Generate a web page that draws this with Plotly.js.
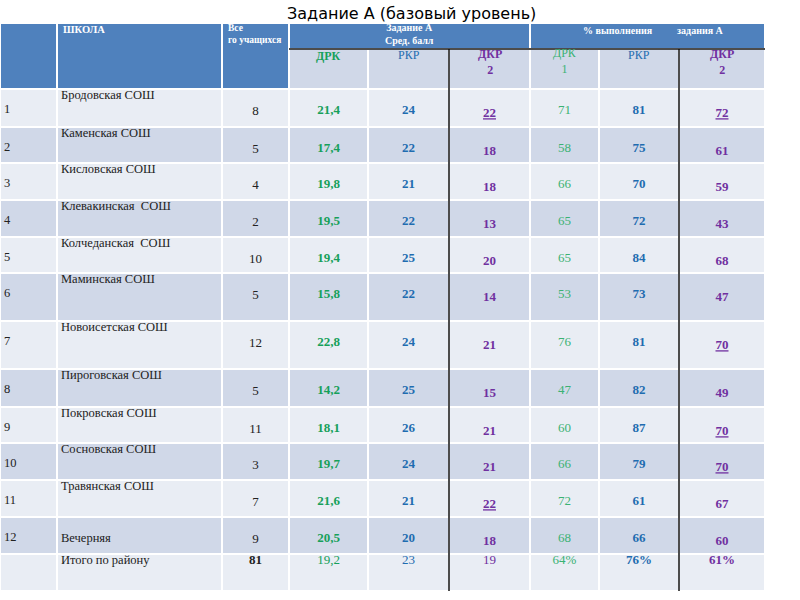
<!DOCTYPE html>
<html>
<head>
<meta charset="utf-8">
<script src="https://cdn.plot.ly/plotly-3.0.1.min.js"></script>
<style>body{margin:0;background:#fff}</style>
</head>
<body>
<div id="tbl" style="width:800px;height:600px"></div>
<script>
// ---- data ----
var rowNums = ['1', '2', '3', '4', '5', '6', '7', '8', '9', '10', '11', '12'];
var schools = ['Бродовская СОШ', 'Каменская СОШ', 'Кисловская СОШ', 'Клевакинская  СОШ',
  'Колчеданская  СОШ', 'Маминская СОШ', 'Новоисетская СОШ', 'Пироговская СОШ',
  'Покровская СОШ', 'Сосновская СОШ', 'Травянская СОШ', 'Вечерняя'];
var students = [8, 5, 4, 2, 10, 5, 12, 5, 11, 3, 7, 9];
var drk = [21.4, 17.4, 19.8, 19.5, 19.4, 15.8, 22.8, 14.2, 18.1, 19.7, 21.6, 20.5];
var rkr = [24, 22, 21, 22, 25, 22, 24, 25, 26, 24, 21, 20];
var dkr = [22, 18, 18, 13, 20, 14, 21, 15, 21, 21, 22, 18];
var drkPct = [71, 58, 66, 65, 65, 53, 76, 47, 60, 66, 72, 68];
var rkrPct = [81, 75, 70, 72, 84, 73, 81, 82, 87, 79, 61, 66];
var dkrPct = [72, 61, 59, 43, 68, 47, 70, 49, 70, 70, 67, 60];

var totalLabel = 'Итого по району';
var totalStudents = 81;
var totalScores = [19.2, 23, 19];      // ДРК, РКР, ДКР
var totalPct = [64, 76, 61];           // ДРК, РКР, ДКР

// ---- look ----
var colEdges = [0, 57, 222, 289, 368, 449, 530, 599, 679, 765];
var headTop = 23, headMid = 49, headBottom = 89;
var rowHeights = [38, 36, 37, 37, 36, 48, 48, 38, 36, 37, 37, 37, 37];
var underlineDkr = [0, 10];
var underlineDkrPct = [0, 6, 8, 9];

var headBlue = '#4F81BD', rowLight = '#E9EDF4', rowDark = '#D0D8E8';
var green = '#16A05A', greenLight = '#3BB273', blue = '#1F6CB0', purple = '#7030A0';
var serif = 'Liberation Serif, Times New Roman, serif';

var rowTops = [];
var yy = headBottom;
rowHeights.forEach(function (h) { rowTops.push(yy); yy += h; });
var tableBottom = yy;

function mid(c) { return (colEdges[c] + colEdges[c + 1]) / 2; }
function comma(v) { return v.toFixed(1).replace('.', ','); }
function wrap(t, bold, under) {
  t = String(t);
  if (under) t = '<u>' + t + '</u>';
  if (bold) t = '<b>' + t + '</b>';
  return t;
}

// ---- cell backgrounds ----
var shapes = [];
function rect(x0, y0, x1, y1, fill) {
  shapes.push({type: 'rect', xref: 'x', yref: 'y', x0: x0, x1: x1, y0: y0, y1: y1,
    fillcolor: fill, line: {color: '#ffffff', width: 2}, layer: 'below'});
}
rect(colEdges[0], headTop, colEdges[1], headBottom, headBlue);
rect(colEdges[1], headTop, colEdges[2], headBottom, headBlue);
rect(colEdges[2], headTop, colEdges[3], headBottom, headBlue);
rect(colEdges[3], headTop, colEdges[6], headMid, headBlue);
rect(colEdges[6], headTop, colEdges[9], headMid, headBlue);
for (var c = 3; c < 9; c++) rect(colEdges[c], headMid, colEdges[c + 1], headBottom, rowDark);
rowTops.forEach(function (t, r) {
  for (var c = 0; c < 9; c++) rect(colEdges[c], t, colEdges[c + 1], t + rowHeights[r], r % 2 ? rowDark : rowLight);
});
function line(x0, y0, x1, y1) {
  shapes.push({type: 'line', xref: 'x', yref: 'y', x0: x0, x1: x1, y0: y0, y1: y1,
    line: {color: '#111111', width: 1.5}});
}
line(colEdges[3], headMid, colEdges[9], headMid);
line(colEdges[5], headMid, colEdges[5], tableBottom);
line(colEdges[8], headMid, colEdges[8], tableBottom);

// ---- text traces ----
function textTrace(xs, ys, texts, color, size, pos) {
  return {type: 'scatter', mode: 'text', x: xs, y: ys, text: texts,
    textposition: pos || 'middle center', cliponaxis: false,
    textfont: {family: serif, size: size || 13, color: color},
    hoverinfo: 'skip', showlegend: false};
}
function col(c, n) { var a = []; for (var i = 0; i < n; i++) a.push(mid(c)); return a; }

var n = schools.length;
var totTop = rowTops[n];
var ysAt = function (dy) { return rowTops.slice(0, n).map(function (t) { return t + dy; }); };

var traces = [
  textTrace(rowNums.map(function () { return 4; }), ysAt(21), rowNums, '#222', 12.5, 'middle right'),
  textTrace(schools.map(function () { return 61; }).concat([61]),
    rowTops.slice(0, n).map(function (t, i) { return t + (i === n - 1 ? 22 : 7); }).concat([totTop + 7]),
    schools.concat([totalLabel]), '#222', 12.5, 'middle right'),
  textTrace(col(2, n + 1), ysAt(23).concat([totTop + 7]),
    students.map(String).concat(['<b>' + totalStudents + '</b>']), '#222', 13),
  textTrace(col(3, n + 1), ysAt(22).concat([totTop + 7]),
    drk.map(function (v) { return wrap(comma(v), true); }).concat([comma(totalScores[0])]), green, 13),
  textTrace(col(4, n + 1), ysAt(22).concat([totTop + 7]),
    rkr.map(function (v) { return wrap(v, true); }).concat([String(totalScores[1])]), blue, 13),
  textTrace(col(5, n + 1), ysAt(25).concat([totTop + 7]),
    dkr.map(function (v, i) { return wrap(v, true, underlineDkr.indexOf(i) >= 0); }).concat([String(totalScores[2])]), purple, 13),
  textTrace(col(6, n + 1), ysAt(22).concat([totTop + 7]),
    drkPct.map(String).concat([totalPct[0] + '%']), greenLight, 13),
  textTrace(col(7, n + 1), ysAt(22).concat([totTop + 7]),
    rkrPct.map(function (v) { return wrap(v, true); }).concat([wrap(totalPct[1] + '%', true)]), blue, 13),
  textTrace(col(8, n + 1), ysAt(25).concat([totTop + 7]),
    dkrPct.map(function (v, i) { return wrap(v, true, underlineDkrPct.indexOf(i) >= 0); }).concat([wrap(totalPct[2] + '%', true)]), purple, 13)
];

// ---- headers ----
var annotations = [];
function note(x, y, text, color, size, anchor, family) {
  annotations.push({xref: 'x', yref: 'y', x: x, y: y, text: text, showarrow: false,
    xanchor: anchor || 'center', yanchor: 'middle', align: anchor === 'left' ? 'left' : 'center',
    font: {family: family || serif, size: size || 9, color: color}});
}
note(411, 13, 'Задание А (базовый уровень)', '#000', 16, 'center', 'DejaVu Sans, sans-serif');
note(61, 29, '<b>ШКОЛА</b>', '#fff', 10.5, 'left');
note(226, 34, '<b>Все<br>го учащихся</b>', '#fff', 9.5, 'left');
note((colEdges[3] + colEdges[6]) / 2, 34, '<b>Задание А<br>Сред. балл</b>', '#fff', 10);
note((colEdges[6] + colEdges[9]) / 2 + 6, 30, '<b>% выполнения\u00a0\u00a0\u00a0\u00a0\u00a0\u00a0\u00a0\u00a0\u00a0\u00a0задания А</b>', '#fff', 10);
note(mid(3), 56, '<b>ДРК</b>', green, 12);
note(mid(4), 55, 'РКР', blue, 12);
note(mid(5), 62, '<b>ДКР<br>2</b>', purple, 12);
note(mid(6), 61, 'ДРК<br>1', greenLight, 12);
note(mid(7), 55, 'РКР', blue, 12);
note(mid(8), 62, '<b>ДКР<br>2</b>', purple, 12);

var layout = {
  width: 800,
  height: 600,
  margin: {l: 0, r: 0, t: 0, b: 0},
  paper_bgcolor: '#ffffff',
  plot_bgcolor: '#ffffff',
  xaxis: {range: [0, 800], visible: false, fixedrange: true},
  yaxis: {range: [600, 0], visible: false, fixedrange: true},
  shapes: shapes,
  annotations: annotations,
  showlegend: false
};

Plotly.newPlot('tbl', traces, layout, {staticPlot: true});
</script>
</body>
</html>
